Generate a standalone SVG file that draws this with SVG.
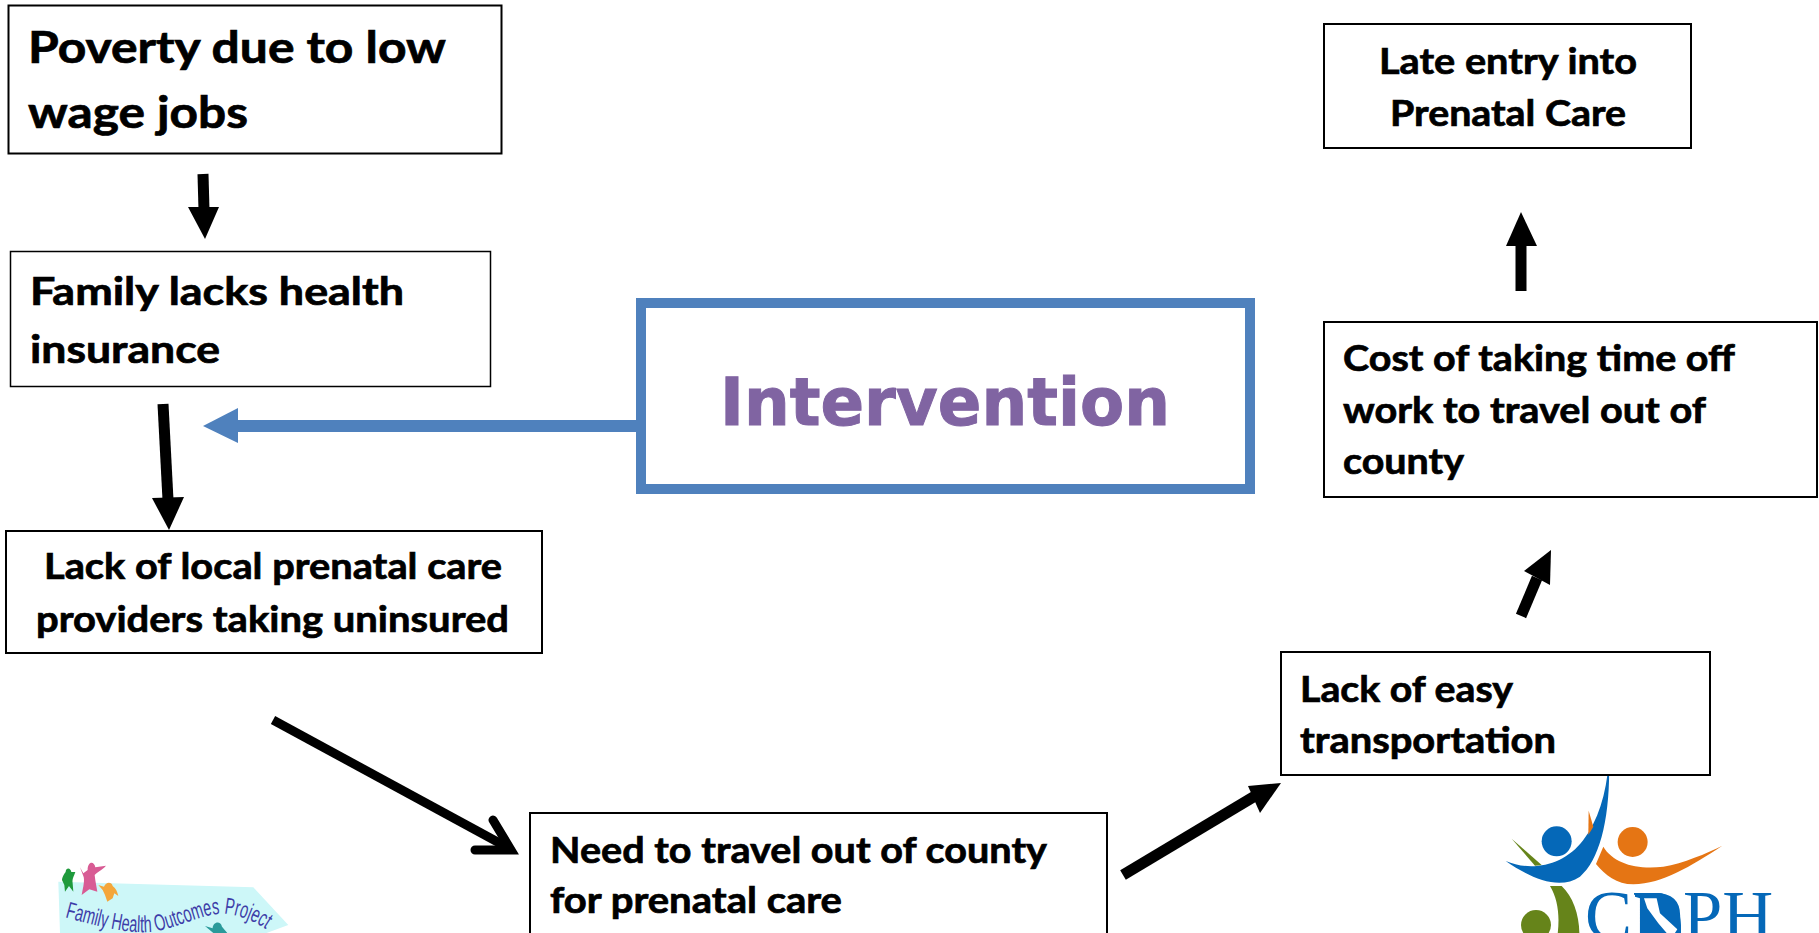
<svg xmlns="http://www.w3.org/2000/svg" width="1819" height="933" viewBox="0 0 1819 933">
<style>
.box{fill:#fff;stroke:#000}
.t{font-family:Lato,"Liberation Sans",sans-serif;font-weight:700;fill:#000;stroke:#000;stroke-width:.7px}
.l{font-size:44px}.m{font-size:39px}.s{font-size:37px}
.ar{fill:none;stroke:#000}
.hd{fill:#000}
</style>
<rect width="1819" height="933" fill="#fff"/>
<g id="logo-family" transform="translate(0 780) scale(.3333)">
<path d="M175,305 L760,322 L865,435 L800,459 L180,459 Z" fill="#cdf7f8"/>
<path d="M186,300 C188,285 195,280 197,275 C198,262 212,262 214,276 L226,276 C222,290 216,295 218,310 L220,335 L207,318 L195,335 L193,315 Z" fill="#1f9a3c"/>
<path d="M240,262 L250,280 L263,270 C262,245 282,240 286,262 L318,257 C305,272 292,275 284,285 C286,305 290,320 292,335 L268,328 L245,345 C250,320 255,300 250,288 Z" fill="#d85b94"/>
<path d="M295,315 L312,320 C318,305 335,305 338,318 C348,325 352,335 355,348 L343,340 L338,355 L322,365 L315,345 L308,330 Z" fill="#f4a63a"/>
<path d="M615,438 L638,445 C638,425 662,420 666,440 L682,459 L640,459 Z" fill="#2a9a9a"/>
<path id="fam-curve" d="M195,412 C300,440 400,468 480,452 C560,432 620,398 680,402 C730,408 770,428 805,452" fill="none"/>
<text font-family="'Liberation Sans',sans-serif" font-size="70" fill="#3d3da8"><textPath href="#fam-curve" textLength="625" lengthAdjust="spacingAndGlyphs">Family Health Outcomes Project</textPath></text>
</g>
<g id="logo-cdph" transform="translate(1450 750) scale(.3333)">
<path d="M477,28 C482,200 450,330 390,380 C330,420 250,390 167,333 C240,365 340,350 400,270 C445,210 470,130 477,28Z" fill="#0568b8"/>
<circle cx="320" cy="274" r="45" fill="#0568b8"/>
<circle cx="548" cy="276" r="45" fill="#e57514"/>
<path d="M817,287 C720,350 640,400 550,403 C500,403 465,375 438,342 L460,290 C490,340 560,360 640,350 C700,340 770,310 817,287Z" fill="#e57514"/>
<path d="M416,182 L430,230 L415,255Z" fill="#e57514"/>
<path d="M185,266 L275,345 L255,347 Z" fill="#66841a"/>
<path d="M300,408 L335,408 C370,440 390,500 388,560 L322,560 C330,500 325,450 300,408Z" fill="#66841a"/>
<circle cx="258" cy="525" r="45" fill="#66841a"/>
<text x="405" y="567" font-family="'Liberation Serif',serif" font-size="207" fill="#0568b8" textLength="565" lengthAdjust="spacingAndGlyphs">CDPH</text>
<path d="M555,429 L625,429 C670,432 693,480 693,525 L693,560 L570,560 L570,445 L555,440Z" fill="#0568b8"/>
<path d="M582,445 L620,445 L630,490 L682,538 L675,549 L650,549 L625,520 L592,475Z" fill="#fff"/>
</g>
<g id="connectors">
<path d="M203,174 L204,210" class="ar" stroke-width="11"/>
<path d="M188,207 L219,207 L205,239Z" class="hd"/>
<path d="M163,404 L168,500" class="ar" stroke-width="11"/>
<path d="M152,498 L184,497 L169,530Z" class="hd"/>
<path d="M273,720 L505,846" class="ar" stroke-width="9"/>
<path d="M493,820 L511,850 L475,850" class="ar" stroke-width="9" stroke-linecap="round"/>
<path d="M1123,875 L1255,796" class="ar" stroke-width="11"/>
<path d="M1248,786 L1281,783 L1260,813Z" class="hd"/>
<path d="M1521,616 L1537,578" class="ar" stroke-width="11"/>
<path d="M1524,571 L1551,550 L1550,585Z" class="hd"/>
<path d="M1521,291 L1521,240" class="ar" stroke-width="11"/>
<path d="M1506,246 L1537,246 L1521,212Z" class="hd"/>
<path d="M640,426 L235,426" fill="none" stroke="#4f81bd" stroke-width="12"/>
<path d="M238,408 L238,443 L203,426Z" fill="#4f81bd"/>
</g>
<g id="node-poverty">
<rect x="8.5" y="5.5" width="493" height="148" class="box" stroke-width="2"/>
<text class="t l" x="28" y="63" textLength="418" lengthAdjust="spacingAndGlyphs">Poverty due to low</text>
<text class="t l" x="28" y="128" textLength="220" lengthAdjust="spacingAndGlyphs">wage jobs</text>
</g>
<g id="node-insurance">
<rect x="10.5" y="251.5" width="480" height="135" class="box" stroke-width="1.5"/>
<text class="t m" x="30" y="305" textLength="374" lengthAdjust="spacingAndGlyphs">Family lacks health</text>
<text class="t m" x="30" y="363" textLength="190" lengthAdjust="spacingAndGlyphs">insurance</text>
</g>
<g id="node-providers">
<rect x="6" y="531" width="536" height="122" class="box" stroke-width="2"/>
<text class="t s" x="44" y="579" textLength="458" lengthAdjust="spacingAndGlyphs">Lack of local prenatal care</text>
<text class="t s" x="36" y="632" textLength="473" lengthAdjust="spacingAndGlyphs">providers taking uninsured</text>
</g>
<g id="node-intervention">
<rect x="641" y="303" width="609" height="186" fill="#fff" stroke="#4f81bd" stroke-width="10"/>
<text x="720" y="425" font-family="'DejaVu Sans',sans-serif" font-weight="700" font-size="66" fill="#8064a2" stroke="#8064a2" stroke-width="1" textLength="450" lengthAdjust="spacingAndGlyphs">Intervention</text>
</g>
<g id="node-travel">
<rect x="530" y="813" width="577" height="130" class="box" stroke-width="2"/>
<text class="t s" x="550" y="863" textLength="497" lengthAdjust="spacingAndGlyphs">Need to travel out of county</text>
<text class="t s" x="550" y="913" textLength="292" lengthAdjust="spacingAndGlyphs">for prenatal care</text>
</g>
<g id="node-transport">
<rect x="1281" y="652" width="429" height="123" class="box" stroke-width="2"/>
<text class="t s" x="1300" y="702" textLength="213" lengthAdjust="spacingAndGlyphs">Lack of easy</text>
<text class="t s" x="1300" y="753" textLength="256" lengthAdjust="spacingAndGlyphs">transportation</text>
</g>
<g id="node-cost">
<rect x="1324" y="322" width="493" height="175" class="box" stroke-width="2"/>
<text class="t s" x="1343" y="371" textLength="392" lengthAdjust="spacingAndGlyphs">Cost of taking time off</text>
<text class="t s" x="1343" y="423" textLength="363" lengthAdjust="spacingAndGlyphs">work to travel out of</text>
<text class="t s" x="1343" y="474" textLength="121" lengthAdjust="spacingAndGlyphs">county</text>
</g>
<g id="node-late">
<rect x="1324" y="24" width="367" height="124" class="box" stroke-width="2"/>
<text class="t s" x="1379" y="74" textLength="258" lengthAdjust="spacingAndGlyphs">Late entry into</text>
<text class="t s" x="1390" y="126" textLength="236" lengthAdjust="spacingAndGlyphs">Prenatal Care</text>
</g>
</svg>
